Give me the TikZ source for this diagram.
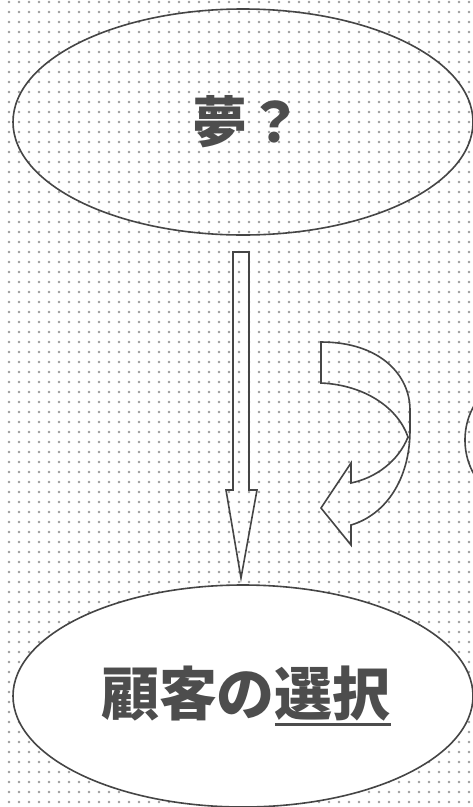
\documentclass[tikz,border=0pt]{standalone}
\usepackage{fontspec}
\newfontfamily\jpfont{Noto Sans CJK JP}
\usetikzlibrary{shapes.geometric,positioning}
\definecolor{ink}{HTML}{4D4D4D}
\definecolor{edge}{HTML}{454545}
\definecolor{dotc}{HTML}{9C9C9C}
\newcommand\choiceline[1]{{\setbox0\hbox{#1}\rlap{\raisebox{-10pt}{\rule{\wd0}{2.8pt}}}\box0}}

\begin{document}
\begin{tikzpicture}[x=1pt,y=-1pt,
    bubble/.style={ellipse,draw=edge,line width=1.6pt,inner sep=0pt,
      text=ink,font=\jpfont\bfseries},
    blockarrow/.style={draw=edge,line width=1.6pt,line join=miter}]
    \useasboundingbox (0,0) rectangle (473,807);
    \clip (0,0) rectangle (473,807);
    \fill[white] (0,0) rectangle (473,807);
    % dotted paper
    \foreach \i in {0,...,47}{
      \foreach \j in {0,...,80}{
        \fill[dotc] (\i*10+9,\j*10+2) circle (1.3);}}
    \node[bubble,minimum width=460pt,minimum height=226pt,font=\jpfont\bfseries\fontsize{55}{60}\selectfont]
      (dream) at (243,122) {\hspace{8pt}夢？};
    \node[bubble,fill=white,minimum width=460pt,minimum height=222pt,font=\jpfont\bfseries\fontsize{58}{64}\selectfont]
      (choice) at (243,696) {\raisebox{-5pt}{\hspace{6pt}顧客の\choiceline{選択}}};
    \node[bubble,minimum width=120pt,minimum height=130pt] (side) at (525,440) {};
    % straight arrow
    \draw[blockarrow] (233,252) -- (249,252) -- (249,490) -- (257,490)
      -- (241,578) -- (226,490) -- (233,490) -- cycle;
    % curved arrow
    \draw[blockarrow] (321,342) .. controls (380,342) and (410,375) .. (410,410)
      -- (410,430) .. controls (410,480) and (385,515) .. (351,525)
      -- (351,545) -- (321,508) -- (351,463) -- (351,483)
      .. controls (375,478) and (398,462) .. (408,437)
      .. controls (398,408) and (365,385) .. (321,383) -- cycle;
  \end{tikzpicture}
\end{document}
